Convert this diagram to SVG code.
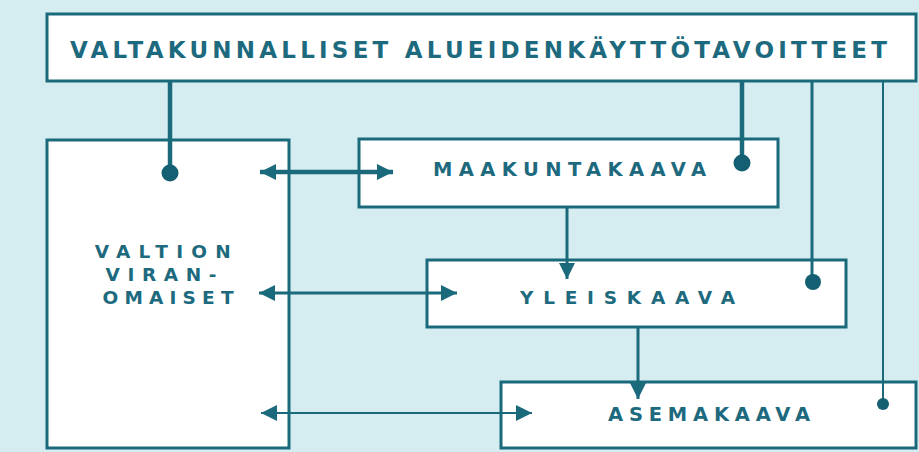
<svg xmlns="http://www.w3.org/2000/svg" width="919" height="452" viewBox="0 0 919 452">
  <defs>
    <style>
      .box { fill: #ffffff; stroke: #1b6a7c; stroke-width: 3; }
      .lbl { font-family: "DejaVu Sans", "Liberation Sans", Arial, sans-serif; font-weight: bold; fill: #1d6a7e; }
      .ln { stroke: #1b6a7c; fill: none; }
      .dot { fill: #155f72; }
    </style>
    <marker id="ah" viewBox="0 0 16 16" refX="16" refY="8" markerWidth="16" markerHeight="16" markerUnits="userSpaceOnUse" orient="auto-start-reverse">
      <path d="M0,0 L16,8 L0,16 Z" fill="#1b6a7c"/>
    </marker>
  </defs>
  <rect x="0" y="0" width="919" height="452" fill="#d5ecf0"/>

  <g id="node-valtakunnalliset">
    <rect class="box" x="47" y="14" width="869" height="67"/>
    <text class="lbl" x="70" y="58" font-size="23" textLength="817" lengthAdjust="spacing">VALTAKUNNALLISET ALUEIDENKÄYTTÖTAVOITTEET</text>
  </g>
  <g id="node-valtion">
    <rect class="box" x="47" y="140" width="242" height="308"/>
    <text class="lbl" font-size="18.5" text-anchor="middle">
      <tspan x="170" y="258" textLength="136" lengthAdjust="spacing">VALTION</tspan>
      <tspan x="168" y="281" textLength="111" lengthAdjust="spacing">VIRAN-</tspan>
      <tspan x="168" y="304" textLength="131" lengthAdjust="spacing">OMAISET</tspan>
    </text>
  </g>
  <g id="node-maakuntakaava">
    <rect class="box" x="359" y="139" width="419" height="68"/>
    <text class="lbl" x="433" y="176" font-size="19.5" textLength="273" lengthAdjust="spacing">MAAKUNTAKAAVA</text>
  </g>
  <g id="node-yleiskaava">
    <rect class="box" x="427" y="260" width="419" height="67"/>
    <text class="lbl" x="520" y="304" font-size="18.5" textLength="215" lengthAdjust="spacing">YLEISKAAVA</text>
  </g>
  <g id="node-asemakaava">
    <rect class="box" x="501" y="382" width="415" height="66"/>
    <text class="lbl" x="608" y="421" font-size="19.5" textLength="202" lengthAdjust="spacing">ASEMAKAAVA</text>
  </g>

  <g id="connectors">
    <line class="ln" x1="170" y1="81" x2="170" y2="173" stroke-width="4.5"/>
    <circle class="dot" cx="170" cy="173" r="8.5"/>
    <line class="ln" x1="742" y1="81" x2="742" y2="163" stroke-width="4.5"/>
    <circle class="dot" cx="742" cy="163" r="8.5"/>
    <line class="ln" x1="812" y1="81" x2="812" y2="282" stroke-width="3"/>
    <circle class="dot" cx="813" cy="282" r="8"/>
    <line class="ln" x1="883" y1="81" x2="883" y2="404" stroke-width="2"/>
    <circle class="dot" cx="883" cy="404" r="6"/>

    <line class="ln" x1="260" y1="172" x2="393" y2="172" stroke-width="4.5" marker-start="url(#ah)" marker-end="url(#ah)"/>
    <line class="ln" x1="259" y1="293" x2="457" y2="293" stroke-width="3" marker-start="url(#ah)" marker-end="url(#ah)"/>
    <line class="ln" x1="261" y1="413" x2="532" y2="413" stroke-width="2" marker-start="url(#ah)" marker-end="url(#ah)"/>

    <line class="ln" x1="567" y1="207" x2="567" y2="279" stroke-width="3" marker-end="url(#ah)"/>
    <line class="ln" x1="638" y1="327" x2="638" y2="399" stroke-width="3" marker-end="url(#ah)"/>
  </g>
</svg>
